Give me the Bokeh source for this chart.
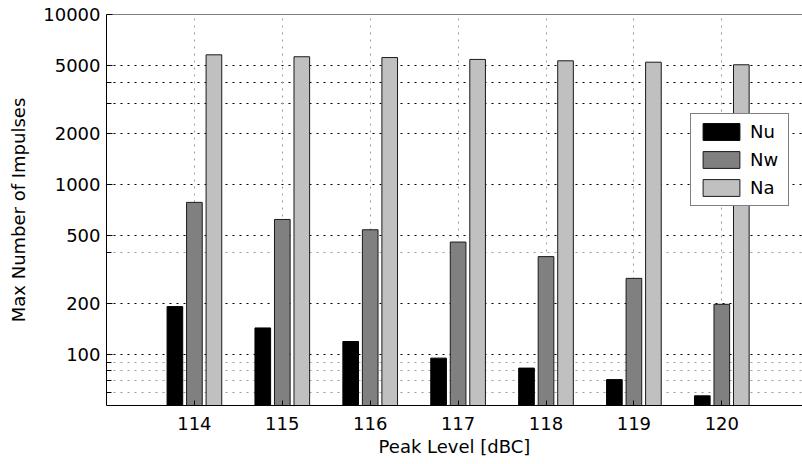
from bokeh.plotting import figure
from bokeh.models import (ColumnDataSource, Range1d, FixedTicker, LinearAxis, Grid,
                          PrintfTickFormatter, Legend, LegendItem, Span)
from bokeh.transform import dodge
from bokeh.embed import file_html
from bokeh.resources import INLINE

# ---- data ----
levels = [114, 115, 116, 117, 118, 119, 120]
nu = [191, 143, 119, 95, 83, 71, 57]
nw = [784, 622, 541, 458, 376, 280, 197]
na = [5790, 5640, 5580, 5440, 5340, 5240, 5060]
series_names = ["Nu", "Nw", "Na"]
y_ticks = [100, 200, 500, 1000, 2000, 5000, 10000]
y_extra_major = [3000, 4000]
y_minor = [60, 70, 80, 90, 400]
y_min, y_max = 50, 10000

FONT = "DejaVu Sans"
FS = "18px"

src = ColumnDataSource(dict(x=levels, nu=nu, nw=nw, na=na))

p = figure(width=802, height=464, output_backend="svg", toolbar_location=None,
           y_axis_type="log", x_axis_type=None,
           x_range=Range1d(113, 120.918), y_range=Range1d(y_min, y_max),
           min_border_left=106, min_border_right=0, min_border_top=14, min_border_bottom=59)
p.outline_line_color = None
p.background_fill_color = "white"
p.border_fill_color = "white"

# bottom axis
xax = LinearAxis(ticker=FixedTicker(ticks=levels), axis_label="Peak Level [dBC]")
xax.major_tick_in = 5
xax.major_tick_out = 0
xax.minor_tick_line_color = None
xax.major_label_standoff = 11
xax.axis_label_standoff = 3
xax.major_label_text_font = FONT
xax.major_label_text_font_size = FS
xax.major_label_text_color = "black"
xax.axis_label_text_font = FONT
xax.axis_label_text_font_size = FS
xax.axis_label_text_color = "black"
xax.axis_label_text_font_style = "normal"
xax.axis_line_color = "black"
xax.major_tick_line_color = "black"
p.add_layout(xax, "below")

# left axis
yax = p.yaxis[0]
yax.ticker = FixedTicker(ticks=y_ticks, minor_ticks=y_extra_major + y_minor)
yax.formatter = PrintfTickFormatter(format="%d")
yax.axis_label = "Max Number of Impulses"
yax.major_tick_in = 6
yax.major_tick_out = 0
yax.minor_tick_in = 5
yax.minor_tick_out = 0
yax.minor_tick_line_color = "black"
yax.major_tick_line_color = "black"
yax.major_label_standoff = 6
yax.axis_label_standoff = 11
yax.major_label_text_font = FONT
yax.major_label_text_font_size = FS
yax.major_label_text_color = "black"
yax.axis_label_text_font = FONT
yax.axis_label_text_font_size = FS
yax.axis_label_text_color = "black"
yax.axis_label_text_font_style = "normal"
yax.axis_line_color = "black"

# grids
p.ygrid[0].ticker = FixedTicker(ticks=y_ticks + y_extra_major)
p.ygrid[0].grid_line_color = "black"
p.ygrid[0].grid_line_dash = "2 5"
p.ygrid[0].grid_line_width = 1

gmin = Grid(dimension=1, ticker=FixedTicker(ticks=y_minor),
            grid_line_color="#9a9a9a", grid_line_dash="2 5", grid_line_width=1)
p.add_layout(gmin)

gx = Grid(dimension=0, ticker=FixedTicker(ticks=levels),
          grid_line_color="#9a9a9a", grid_line_dash="2 5", grid_line_width=1)
p.add_layout(gx)

# top box line
p.add_layout(Span(location=y_max, dimension="width", line_color="black", line_width=1))

# bars
W = 0.178
OFF = 0.222
r_nu = p.vbar(x=dodge("x", -OFF, range=p.x_range), top="nu", bottom=y_min, width=W,
              source=src, fill_color="#000000", line_color="#000000", line_width=1)
r_nw = p.vbar(x=dodge("x", 0.0, range=p.x_range), top="nw", bottom=y_min, width=W,
              source=src, fill_color="#808080", line_color="#1a1a1a", line_width=1)
r_na = p.vbar(x=dodge("x", OFF, range=p.x_range), top="na", bottom=y_min, width=W,
              source=src, fill_color="#c0c0c0", line_color="#1a1a1a", line_width=1)

legend = Legend(items=[LegendItem(label=series_names[0], renderers=[r_nu]),
                       LegendItem(label=series_names[1], renderers=[r_nw]),
                       LegendItem(label=series_names[2], renderers=[r_na])],
                location=(584, 199))
legend.border_line_color = "black"
legend.border_line_width = 1
legend.background_fill_color = "white"
legend.background_fill_alpha = 1.0
legend.padding = 7
legend.margin = 0
legend.spacing = 7
legend.glyph_width = 46
legend.glyph_height = 21
legend.label_standoff = 6
legend.label_height = 21
legend.label_width = 31
legend.label_text_font = FONT
legend.label_text_font_size = FS
legend.label_text_color = "black"
legend.label_text_baseline = "middle"
p.add_layout(legend, "center")

open("out.html", "w").write(file_html(p, INLINE))
